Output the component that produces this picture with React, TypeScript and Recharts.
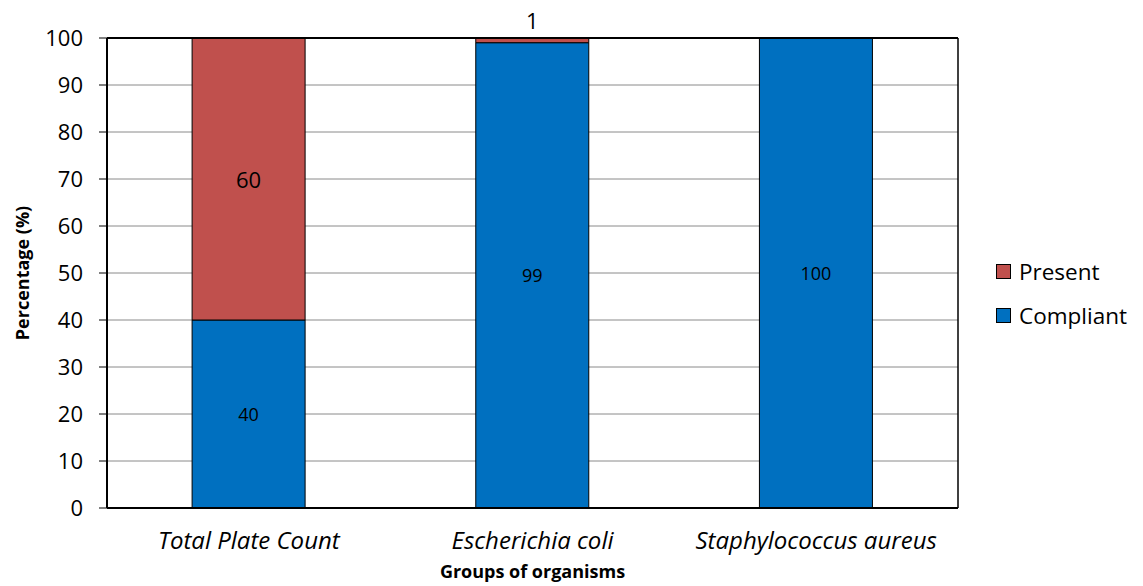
import React from "react";
import {
  BarChart,
  Bar,
  XAxis,
  YAxis,
  CartesianGrid,
  Legend,
  LabelList,
} from "recharts";

// Organism groups and the share of samples in each outcome
const groups = ["Total Plate Count", "Escherichia coli", "Staphylococcus aureus"];
const compliant = [40, 99, 100];
const present = [60, 1, 0];
const yTicks = [0, 10, 20, 30, 40, 50, 60, 70, 80, 90, 100];
const edgeTicks = [0, 1, 2, 3];

const RED = "#C0504D";
const BLUE = "#0070C0";
const FONT = "'Open Sans', 'Liberation Sans', sans-serif";

const rows = groups.map((g, i) => ({
  group: g,
  compliant: compliant[i],
  present: present[i],
}));

const CompliantLabel = (props: any) => {
  const { x, y, width, height, value } = props;
  if (!value) return null;
  return (
    <text
      x={x + width / 2}
      y={y + height / 2}
      textAnchor="middle"
      dominantBaseline="central"
      fontSize={18}
      fontFamily={FONT}
      fill="#000"
    >
      {value}
    </text>
  );
};

const PresentLabel = (props: any) => {
  const { x, y, width, height, value } = props;
  if (!value) return null;
  // thin segments get their value written above the bar
  const cy = height < 20 ? y - 18 : y + height / 2;
  return (
    <text
      x={x + width / 2}
      y={cy}
      textAnchor="middle"
      dominantBaseline="central"
      fontSize={22}
      fontFamily={FONT}
      fill="#000"
    >
      {value}
    </text>
  );
};

const legendItems = [
  { name: "Present", color: RED },
  { name: "Compliant", color: BLUE },
];

const LegendBox = () => (
  <div style={{ fontFamily: FONT, fontSize: 22.5, color: "#000" }}>
    {legendItems.map((it) => (
      <div
        key={it.name}
        style={{ display: "flex", alignItems: "center", height: 44 }}
      >
        <span
          style={{
            display: "inline-block",
            width: 13,
            height: 13,
            background: it.color,
            border: "1px solid #000",
            marginRight: 8,
          }}
        />
        <span>{it.name}</span>
      </div>
    ))}
  </div>
);

const YTitle = (props: any) => {
  const { viewBox } = props;
  const cx = 22;
  const cy = viewBox.y + viewBox.height / 2;
  return (
    <text
      x={cx}
      y={cy}
      transform={`rotate(-90 ${cx} ${cy})`}
      textAnchor="middle"
      dominantBaseline="central"
      fontSize={18}
      fontWeight="bold"
      fontFamily={FONT}
      fill="#000"
    >
      Percentage (%)
    </text>
  );
};

const XTitle = (props: any) => {
  const { viewBox } = props;
  return (
    <text
      x={viewBox.x + viewBox.width / 2}
      y={viewBox.y + 62}
      textAnchor="middle"
      dominantBaseline="central"
      fontSize={18}
      fontWeight="bold"
      fontFamily={FONT}
      fill="#000"
    >
      Groups of organisms
    </text>
  );
};

export default function App() {
  return (
    <div style={{ position: "absolute", left: 0, top: 0, width: 1143, height: 586, background: "#fff" }}>
      <BarChart
        width={1143}
        height={586}
        data={rows}
        margin={{ top: 37, right: 184, bottom: 0, left: 0 }}
        barCategoryGap="30%"
      >
        <CartesianGrid
          xAxisId="cat"
          yAxisId="left"
          vertical={false}
          stroke="#8a8a8a"
          strokeWidth={1}
        />
        <XAxis
          xAxisId="cat"
          dataKey="group"
          height={77}
          tickLine={false}
          axisLine={false}
          tickSize={0}
          tickMargin={23}
          tick={{ fill: "#000", fontSize: 24, fontStyle: "italic", fontFamily: FONT }}
          interval={0}
          label={<XTitle />}
        />
        {/* boundary ticks between groups */}
        <XAxis
          xAxisId="axisEdge"
          type="number"
          domain={[0, 3]}
          ticks={edgeTicks}
          allowDataOverflow
          height={1}
          tick={false}
          tickSize={8}
          tickLine={{ stroke: "#000", strokeWidth: 1 }}
          axisLine={{ stroke: "#000", strokeWidth: 2 }}
        />
        <XAxis
          xAxisId="top"
          orientation="top"
          type="number"
          domain={[0, 3]}
          allowDataOverflow
          height={1}
          tick={false}
          tickLine={false}
          axisLine={{ stroke: "#000", strokeWidth: 2 }}
        />
        <YAxis
          yAxisId="left"
          domain={[0, 100]}
          ticks={yTicks}
          width={107}
          tickSize={8}
          tickMargin={16}
          tickLine={{ stroke: "#000" }}
          axisLine={{ stroke: "#000", strokeWidth: 2 }}
          tick={{ fill: "#000", fontSize: 22, fontFamily: FONT }}
          interval={0}
          label={<YTitle />}
        />
        <YAxis
          yAxisId="right"
          orientation="right"
          domain={[0, 100]}
          width={1}
          tick={false}
          tickLine={false}
          axisLine={{ stroke: "#000", strokeWidth: 1.5 }}
        />
        <Legend
          content={<LegendBox />}
          layout="horizontal"
          align="center"
          verticalAlign="middle"
          wrapperStyle={{ position: "absolute", left: 996, top: 249, width: 147 }}
        />
        <Bar
          xAxisId="cat"
          yAxisId="left"
          dataKey="compliant"
          name="Compliant"
          stackId="s"
          fill={BLUE}
          stroke="#000"
          strokeWidth={1}
          isAnimationActive={false}
        >
          <LabelList dataKey="compliant" content={<CompliantLabel />} />
        </Bar>
        <Bar
          xAxisId="cat"
          yAxisId="left"
          dataKey="present"
          name="Present"
          stackId="s"
          fill={RED}
          stroke="#000"
          strokeWidth={1}
          isAnimationActive={false}
        >
          <LabelList dataKey="present" content={<PresentLabel />} />
        </Bar>
      </BarChart>
    </div>
  );
}
